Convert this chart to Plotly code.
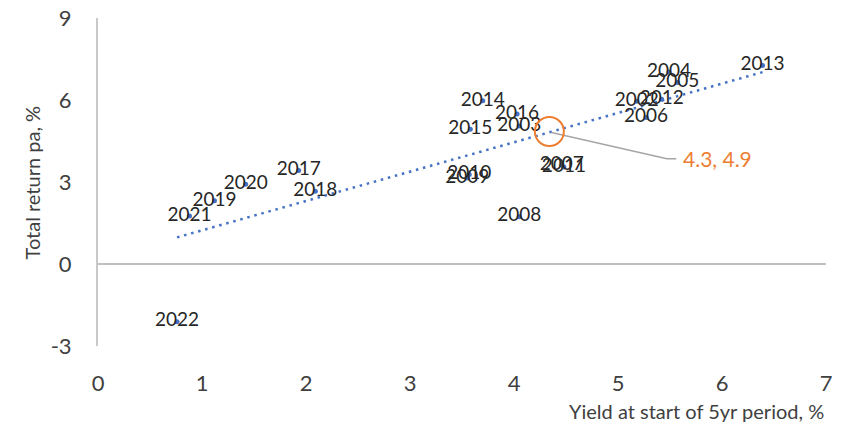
import numpy as np
import plotly.graph_objects as go

years = ["2002","2003","2004","2005","2006","2007","2008","2009","2010","2011","2012",
         "2013","2014","2015","2016","2017","2018","2019","2020","2021","2022"]
yield_start = [5.18, 4.05, 5.49, 5.57, 5.27, 4.46, 4.05, 3.55, 3.57, 4.48, 5.42,
               6.39, 3.70, 3.58, 4.03, 1.93, 2.09, 1.12, 1.42, 0.88, 0.76]
total_return = [5.95, 5.05, 7.02, 6.64, 5.36, 3.62, 1.73, 3.15, 3.27, 3.55, 6.03,
                7.26, 5.97, 4.93, 5.49, 3.42, 2.66, 2.31, 2.92, 1.76, -2.11]

highlight_x = [4.34]
highlight_y = [4.85]
highlight_label = "4.3, 4.9"
leader_x = [4.36, 5.47, 5.56]
leader_y = [4.81, 3.85, 3.85]

x_ticks = [0, 1, 2, 3, 4, 5, 6, 7]
y_ticks = [-3, 0, 3, 6, 9]
y_tick_labels = ["-3", "0", "3", "6", "9"]

BLUE = "#4472C4"
ORANGE = "#ED7D31"
FONT = "Lato"

xs = np.array(yield_start)
ys = np.array(total_return)
slope, intercept = np.polyfit(xs, ys, 1)
trend_x = [xs.min(), xs.max()]
trend_y = [slope * v + intercept for v in trend_x]

fig = go.Figure()
fig.add_trace(go.Scatter(x=trend_x, y=trend_y, mode="lines",
                         line=dict(color=BLUE, width=2.5, dash="2.5px,4.8px"),
                         hoverinfo="skip", showlegend=False))
fig.add_trace(go.Scatter(x=leader_x, y=leader_y, mode="lines",
                         line=dict(color="#A5A5A5", width=1.5),
                         hoverinfo="skip", showlegend=False))
fig.add_trace(go.Scatter(x=yield_start, y=total_return, mode="markers+text",
                         text=years, textposition="middle center",
                         textfont=dict(family=FONT, size=19, color="#262626"),
                         marker=dict(color=BLUE, size=5),
                         showlegend=False))
fig.add_trace(go.Scatter(x=highlight_x, y=highlight_y, mode="markers",
                         marker=dict(symbol="circle-open", size=29, color=ORANGE,
                                     line=dict(color=ORANGE, width=2)),
                         showlegend=False))
fig.add_annotation(x=leader_x[-1], y=leader_y[-1], text=highlight_label,
                   xanchor="left", yanchor="middle", xshift=5, showarrow=False,
                   font=dict(family=FONT, size=21, color=ORANGE))

fig.add_annotation(xref="paper", yref="paper", x=1.0, y=-0.198,
                   text="Yield at start of 5yr period, %", showarrow=False,
                   xanchor="right", yanchor="middle",
                   font=dict(family=FONT, size=20, color="#404040"))
fig.add_annotation(xref="paper", yref="paper", x=-0.09, y=0.5,
                   text="Total return pa, %", showarrow=False, textangle=-90,
                   xanchor="center", yanchor="middle",
                   font=dict(family=FONT, size=20, color="#404040"))

fig.update_layout(
    width=845, height=426,
    margin=dict(l=98, r=19, t=18, b=80, autoexpand=False),
    paper_bgcolor="white", plot_bgcolor="white",
    font=dict(family=FONT, color="#404040"),
    xaxis=dict(range=[0, 7], tickvals=x_ticks, showgrid=False, zeroline=False,
               showline=False, ticks="", ticklabelstandoff=22, automargin=False,
               tickfont=dict(family=FONT, size=22, color="#404040")),
    yaxis=dict(range=[-3, 9], tickvals=y_ticks, ticktext=y_tick_labels,
               showgrid=False, automargin=False,
               zeroline=True, zerolinecolor="#BFBFBF", zerolinewidth=2,
               showline=True, linecolor="#C8C8C8", linewidth=2, ticks="",
               ticklabelstandoff=20,
               tickfont=dict(family=FONT, size=22, color="#404040")),
)

fig.write_html("out.html",
               config={"displayModeBar": False},
               post_script="document.body.style.margin='0';document.body.style.overflow='hidden';")
